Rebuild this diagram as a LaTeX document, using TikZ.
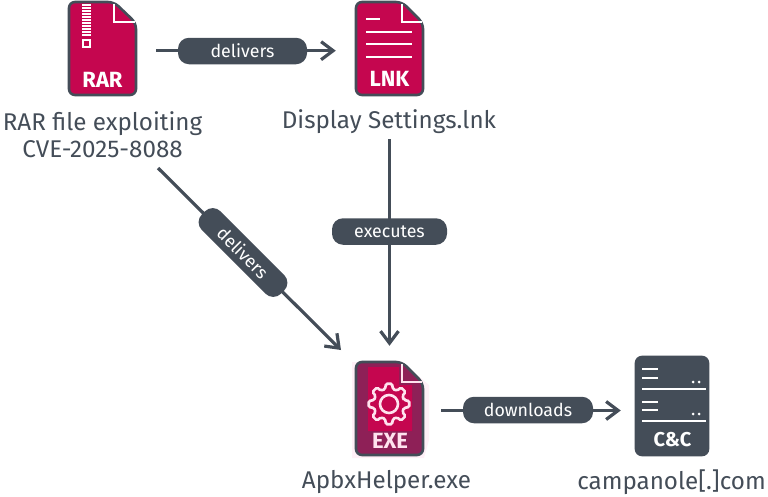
\documentclass[tikz,border=0pt]{standalone}
\usepackage{fontspec}
\setmainfont{Fira Sans}
\usetikzlibrary{arrows.meta}
\definecolor{slate}{HTML}{444D58}
\definecolor{crim}{HTML}{C5064F}
\definecolor{plum}{HTML}{8E2057}
\definecolor{pinkw}{HTML}{FFE3EE}
\definecolor{halo}{HTML}{FFF0F7}
\tikzset{
  x=1pt,y=-1pt,
  filebody/.style={draw=slate,line width=2.6pt,rounded corners=6pt,line join=round},
  whiteline/.style={draw=white,line width=2.7pt},
  iconbox/.style={inner sep=0pt,minimum width=67pt,minimum height=93pt},
  iconlabel/.style={font=\fontsize{22}{24}\selectfont\bfseries,text=white,inner sep=0pt},
  caption/.style={font=\fontsize{24.2}{27}\selectfont,text=slate,align=center,inner sep=0pt},
  pill/.style={rectangle,rounded corners=11pt,fill=slate,text=white,font=\fontsize{17.8}{20}\selectfont,inner sep=0pt,minimum height=26.5pt},
  link/.style={draw=slate,line width=3.2pt,-{Straight Barb[length=12pt,width=18pt,line width=3.2pt]}},
}
\begin{document}
\begin{tikzpicture}
\useasboundingbox (0,0) rectangle (768,496);
% nodes for the icons
\node[iconbox] (rar) at (102.5,50.7) {};
\node[iconbox] (lnk) at (389.5,50.7) {};
\node[iconbox] (exe) at (389.5,410.5) {};
\node[iconbox,minimum width=73pt,minimum height=99pt] (cc) at (672.5,410.5) {};
% captions
\node[caption] (rarcap) at (102.5,135) {RAR file exploiting\\CVE-2025-8088};
\node[caption] (lnkcap) at (389,122) {Display Settings.lnk};
\node[caption] (execap) at (386.5,482) {ApbxHelper.exe};
\node[caption] (cccap) at (671.5,482) {campanole[.]com};
\coordinate (diagstart) at (158,168);
\coordinate (diagend) at (341,350);
\coordinate (vstart) at (389.5,139);
% connectors
\draw[link,shorten <=20pt,shorten >=20pt] (rar.east) -- (lnk.west);
\draw[link,shorten >=18pt] (vstart) -- (exe.north);
\draw[link] (diagstart) -- (diagend);
\draw[link,shorten <=18pt,shorten >=15pt] (exe.east) -- (cc.west);
% pills
\node[pill,minimum width=129pt] (p1) at (242.5,51) {delivers};
\node[pill,minimum width=115pt] (p2) at (389.5,231.5) {executes};
\node[pill,minimum width=112pt,rotate=-45] (p3) at (243,252.5) {delivers};
\node[pill,minimum width=130pt] (p4) at (528,410) {downloads};
% RAR icon
\path[filebody,fill=crim] (69,2) -- (114,2) -- (136,23) -- (136,95) -- (69,95) -- cycle;
\draw[whiteline] (114,4) -- (114,22) -- (135,22);
\foreach \yy in {5,8,...,37} {\draw[white,line width=2pt] (82,\yy) -- (91,\yy);}
\draw[white,line width=1.8pt] (83,40) rectangle (90,47);
\node[iconlabel] (rartxt) at (102.5,80) {RAR};
% LNK icon
\path[filebody,fill=crim] (356,2) -- (402,2) -- (423,23) -- (423,95) -- (356,95) -- cycle;
\draw[whiteline] (402,4) -- (402,22) -- (422,22);
\draw[whiteline] (366,19) -- (380,19);
\draw[whiteline] (366,32) -- (412,32);
\draw[whiteline] (366,44) -- (412,44);
\draw[whiteline] (366,57) -- (412,57);
\node[iconlabel] (lnktxt) at (389.5,79) {LNK};
% EXE icon
\fill[halo] (352,362) -- (402,362) -- (429,385) -- (429,440) -- (424,458) -- (352,458) -- cycle;
\path[filebody,fill=plum] (356,362) -- (402,362) -- (423,383) -- (423,455) -- (356,455) -- cycle;
\fill[crim] (368,367) -- (399,367) -- (399,385) -- (412,385) -- (412,431) -- (368,431) -- cycle;
\draw[draw=pinkw,line width=2.5pt] (402,364) -- (402,382) -- (422,382);
\begin{scope}[shift={(389,404)}]
\draw[draw=pinkw,line width=2.6pt,rounded corners=1.5pt]
  (-14:15.5) \foreach \a in {0,45,...,315} { -- (\a-14:15.5) -- (\a-9:20.5) -- (\a+9:20.5) -- (\a+14:15.5) } -- cycle;
\draw[draw=pinkw,line width=2.6pt] (0,0) circle[radius=9];
\end{scope}
\node[iconlabel,text=pinkw] (exetxt) at (390,441) {EXE};
% C&C icon
\path[filebody,fill=slate] (636,357) rectangle (708,455);
\draw[whiteline] (642,369) -- (658,369);
\draw[whiteline] (642,378) -- (658,378);
\draw[whiteline] (642,389) -- (706,389);
\draw[whiteline] (642,402) -- (658,402);
\draw[whiteline] (642,410) -- (658,410);
\draw[whiteline] (642,421) -- (706,421);
\foreach \px/\py in {693/382,699/382,693/414,699/414} {\fill[white] (\px,\py) circle[radius=1.5];}
\node[iconlabel,font=\fontsize{20}{24}\selectfont\bfseries] (cctxt) at (672.5,440) {C\&C};
\end{tikzpicture}
\end{document}
